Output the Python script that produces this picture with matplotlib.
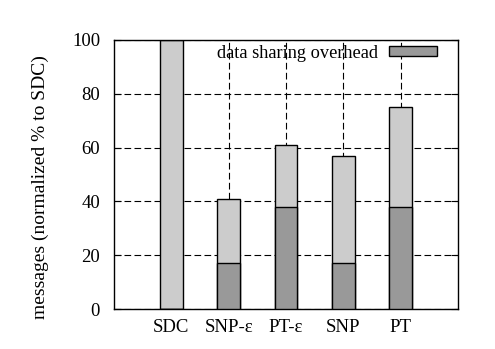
import numpy as np
import matplotlib
matplotlib.use('Agg')
import matplotlib.pyplot as plt

plt.rcParams['font.family'] = ['Liberation Serif', 'DejaVu Serif']

schemes = ['SDC', 'SNP-ε', 'PT-ε', 'SNP', 'PT']
total = [100, 41, 61, 57, 75]
data_sharing = [0, 17, 38, 17, 38]

x = np.arange(len(schemes))
width = 0.4

fig = plt.figure(figsize=(4.95, 3.49), dpi=100)
ax = fig.add_axes([0.2303, 0.1146, 0.695, 0.7708])

ax.set_axisbelow(True)
ax.grid(True, color='black', linestyle=(0, (6, 3)), linewidth=0.8)

ax.bar(x, total, width, color='#cccccc', edgecolor='black', linewidth=1, zorder=2)
ax.bar(x, data_sharing, width, color='#999999', edgecolor='black', linewidth=1,
       zorder=3, label='data sharing overhead')

ax.set_xlim(-1, 5)
ax.set_ylim(0, 100)
ax.set_xticks(x)
ax.set_xticklabels(schemes, fontsize=13.5)
ax.set_yticks(np.arange(0, 101, 20))
ax.tick_params(axis='x', length=0, pad=7)
ax.tick_params(axis='y', direction='in', length=5, right=True, labelsize=13.5, pad=10)
ax.set_ylabel('messages (normalized % to SDC)', fontsize=14)
ax.yaxis.set_label_coords(-0.19, 0.455)

for s in ax.spines.values():
    s.set_linewidth(1)

leg = ax.legend(loc='upper right', frameon=False, fontsize=13.2, handlelength=2.6,
                handleheight=0.5, handletextpad=0.6, borderaxespad=0.3,
                markerfirst=False, bbox_to_anchor=(0.975, 1.03))

fig.savefig('out.png', dpi=100)
